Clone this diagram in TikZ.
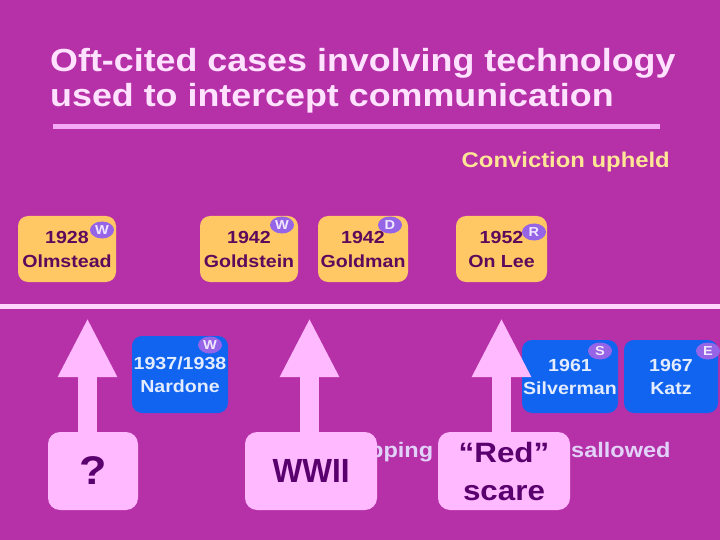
\documentclass[tikz,border=0pt]{standalone}
\usepackage{fontspec}
\setmainfont{Liberation Sans}[FakeStretch=1.12]
\usetikzlibrary{arrows.meta,shapes.geometric}
\definecolor{slidebg}{RGB}{182,48,168}
\definecolor{titletext}{RGB}{255,226,255}
\definecolor{rulepink}{RGB}{245,168,245}
\definecolor{lineglow}{RGB}{255,214,255}
\definecolor{upheldtext}{RGB}{255,230,150}
\definecolor{caseorange}{RGB}{255,200,100}
\definecolor{casetext}{RGB}{92,10,92}
\definecolor{caseblue}{RGB}{16,100,240}
\definecolor{bluetext}{RGB}{228,236,255}
\definecolor{badgepurple}{RGB}{150,100,230}
\definecolor{badgetext}{RGB}{240,232,255}
\definecolor{eventpink}{RGB}{255,185,255}
\definecolor{eventtext}{RGB}{90,0,110}
\definecolor{hiddentext}{RGB}{226,210,250}
\tikzset{
  casebox/.style    = {rounded corners=10pt, align=center, inner sep=0pt,
                       font=\fontsize{17.5}{24}\selectfont\bfseries},
  upheld/.style     = {casebox, fill=caseorange, text=casetext, minimum height=66pt},
  overturned/.style = {casebox, fill=caseblue, text=bluetext, minimum height=73pt,
                       font=\fontsize{17.5}{23}\selectfont\bfseries},
  badge/.style      = {ellipse, fill=badgepurple, text=badgetext, inner sep=0pt,
                       minimum width=24pt, minimum height=17pt,
                       font=\fontsize{13}{13}\selectfont\bfseries},
  eventbox/.style   = {rounded corners=12pt, fill=eventpink, text=eventtext,
                       minimum height=78pt, align=center, inner sep=0pt},
  bigarrow/.style   = {eventpink, line width=19pt, -{Triangle[length=59pt,width=55pt]}},
  behind/.style     = {text=hiddentext, anchor=base west, inner sep=0pt,
                       font=\fontsize{21}{21}\selectfont\bfseries}
}
\begin{document}
\begin{tikzpicture}[x=1pt,y=-1pt]
  \useasboundingbox (0,0) rectangle (720,540);
  \fill[slidebg] (0,0) rectangle (720,540);
  % heading
  \node[anchor=base west,inner sep=0pt,text=titletext,
        font=\fontsize{32}{35}\selectfont\bfseries] (title1) at (50,72)
        {Oft-cited cases involving technology};
  \node[anchor=base west,inner sep=0pt,text=titletext,
        font=\fontsize{32}{35}\selectfont\bfseries] (title2) at (50,107)
        {used to intercept communication};
  \draw[rulepink,line width=4.5pt] (53,126.5) -- (660,126.5);
  \node[anchor=base east,inner sep=0pt,text=upheldtext,
        font=\fontsize{21.3}{24}\selectfont\bfseries] (upheldlabel) at (670,168)
        {Conviction upheld};
  % upheld cases
  \node[upheld,minimum width=98pt] (olmstead)  at (67,249)    {1928\\Olmstead};
  \node[upheld,minimum width=98pt] (goldstein) at (249,249)   {1942\\Goldstein};
  \node[upheld,minimum width=90pt] (goldman)   at (363,249)   {1942\\Goldman};
  \node[upheld,minimum width=91pt] (onlee)     at (501.5,249) {1952\\On Lee};
  \node[badge] (bolmstead)  at (102,230) {W};
  \node[badge] (bgoldstein) at (282,225) {W};
  \node[badge] (bgoldman)   at (390,225) {D};
  \node[badge] (bonlee)     at (534,232) {R};
  % the time line
  \draw[lineglow,line width=5pt] (0,306) -- (720,306);
  % overturned cases
  \node[overturned,minimum width=96pt,minimum height=77pt] (nardone) at (180,374.5) {1937/1938\\Nardone};
  \node[overturned,minimum width=96pt] (silverman) at (570,376.5) {1961\\Silverman};
  \node[overturned,minimum width=94pt] (katz)      at (671,376.5) {1967\\Katz};
  \node[badge] (bnardone)   at (210,345) {W};
  \node[badge] (bsilverman) at (600,351) {S};
  \node[badge] (bkatz)      at (708,351) {E};
  % labels half hidden by the event boxes
  \node[behind] (tapping)    at (369,457) {pping};
  \node[behind] (disallowed) at (571,457) {sallowed};
  % events
  \node[eventbox,minimum width=90pt,font=\fontsize{40}{40}\selectfont\bfseries]
       (unknown) at (93,471) {?};
  \node[eventbox,minimum width=132pt,font=\fontsize{33.5}{34}\selectfont\bfseries]
       (wwii) at (311,471) {\scalebox{0.84}[1]{WWII}};
  \node[eventbox,minimum width=132pt,font=\fontsize{28}{38}\selectfont\bfseries]
       (redscare) at (504,471) {“Red”\\scare};
  \coordinate (tunknown) at (87.5,318);
  \coordinate (twwii)    at (309.5,318);
  \coordinate (tred)     at (501.5,318);
  \draw[bigarrow] (unknown.north -| tunknown) -- (tunknown);
  \draw[bigarrow] (wwii.north -| twwii) -- (twwii);
  \draw[bigarrow] (redscare.north -| tred) -- (tred);
\end{tikzpicture}
\end{document}
